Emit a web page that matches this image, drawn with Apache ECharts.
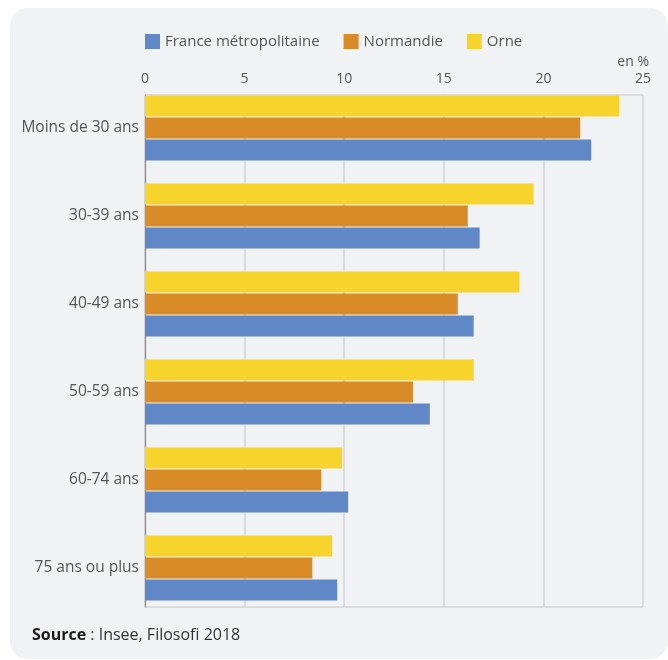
<!DOCTYPE html>
<html><head><meta charset="utf-8">
<script src="https://cdn.jsdelivr.net/npm/echarts@6/dist/echarts.min.js"></script>
<style>html,body{margin:0;padding:0;background:#fff}#c{width:668px;height:660px}</style>
</head><body><div id="c"></div>
<script>
const categories = ['Moins de 30 ans','30-39 ans','40-49 ans','50-59 ans','60-74 ans','75 ans ou plus'];
const seriesNames = ['France métropolitaine','Normandie','Orne'];
const franceValues = [22.4, 16.8, 16.5, 14.3, 10.2, 9.65];
const normandieValues = [21.85, 16.2, 15.7, 13.45, 8.85, 8.4];
const orneValues = [23.8, 19.5, 18.8, 16.5, 9.9, 9.4];
const xTicks = {min: 0, max: 25, interval: 5};
const colors = {france: '#6088c6', normandie: '#d88b26', orne: '#f7d42c'};
const font = '"Open Sans", sans-serif';
const txt = '#555555';

const chart = echarts.init(document.getElementById('c'), null, {renderer: 'canvas'});
chart.setOption({
  animation: false,
  textStyle: {fontFamily: font},
  graphic: [
    {type: 'rect', z: -10, shape: {x: 10, y: 8, width: 658, height: 651, r: 18}, style: {fill: '#f1f2f4'}},
    {type: 'text', right: 668 - 649, top: 55, style: {text: 'en %', font: '14px ' + font, fill: txt}},
    {type: 'text', left: 32, top: 627, style: {
      text: '{b|Source} : Insee, Filosofi 2018',
      rich: {b: {fontWeight: 'bold', fontSize: 16, fontFamily: font, fill: '#1a1a1a'}},
      font: '16px ' + font, fill: '#333'}}
  ],
  legend: {
    top: 29, left: 140, itemWidth: 15, itemHeight: 15, itemGap: 24,
    icon: 'rect',
    textStyle: {fontSize: 15, color: txt, fontFamily: font},
    data: seriesNames
  },
  grid: [
    {left: 145, right: 25, top: 84, height: 528},
    {left: 145, right: 25, top: 95, bottom: 53}
  ],
  xAxis: [
    {gridIndex: 0, type: 'value', min: xTicks.min, max: xTicks.max, interval: xTicks.interval, show: false},
    {gridIndex: 1, type: 'value', position: 'top', min: xTicks.min, max: xTicks.max, interval: xTicks.interval,
     axisLine: {show: false}, axisTick: {show: false},
     axisLabel: {color: txt, fontSize: 14, margin: 9},
     splitLine: {lineStyle: {color: '#d4d5d8', width: 1.5}}}
  ],
  yAxis: [
    {gridIndex: 0, type: 'category', data: categories, inverse: true,
     axisLine: {show: false}, axisTick: {show: false}, splitLine: {show: false},
     axisLabel: {color: txt, fontSize: 15.5, margin: 6}},
    {gridIndex: 1, type: 'value', min: 0, max: 1, interval: 1,
     axisLabel: {show: false}, axisTick: {show: false},
     axisLine: {show: true, lineStyle: {color: '#8a8a8a', width: 1.2}},
     splitLine: {show: true, lineStyle: {color: '#d4d5d8', width: 1.5}}}
  ],
  series: [
    {name: seriesNames[2], type: 'bar', xAxisIndex: 0, yAxisIndex: 0, data: orneValues, itemStyle: {color: colors.orne}, barWidth: 21, barGap: '5%', z: 3},
    {name: seriesNames[1], type: 'bar', xAxisIndex: 0, yAxisIndex: 0, data: normandieValues, itemStyle: {color: colors.normandie}, barWidth: 21, barGap: '5%', z: 3},
    {name: seriesNames[0], type: 'bar', xAxisIndex: 0, yAxisIndex: 0, data: franceValues, itemStyle: {color: colors.france}, barWidth: 21, barGap: '5%', z: 3}
  ]
});
</script></body></html>
